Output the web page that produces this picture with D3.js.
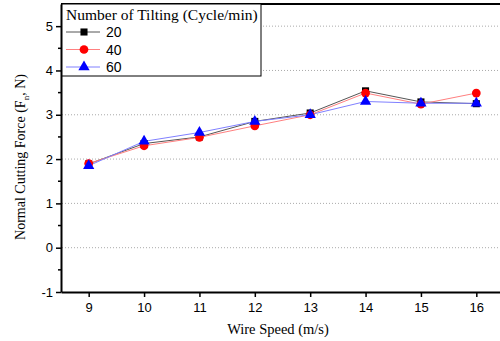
<!DOCTYPE html>
<html><head><meta charset="utf-8">
<script src="https://d3js.org/d3.v7.min.js"></script>
<style>body{margin:0;background:#fff}svg{display:block}</style>
</head><body>
<script>
const speeds = [9,10,11,12,13,14,15,16];
const tilt20 = [1.89,2.35,2.50,2.85,3.04,3.54,3.29,3.25];
const tilt40 = [1.90,2.30,2.49,2.75,3.00,3.49,3.24,3.49];
const tilt60 = [1.85,2.40,2.60,2.85,3.00,3.30,3.26,3.26];
const yTicks = [-1,0,1,2,3,4,5];
const gridTicks = [0,1,2,3,4,5];
const seriesNames = ["20","40","60"];

const W=500,H=341;
const svg=d3.select("body").append("svg").attr("width",W).attr("height",H);
const x=d3.scaleLinear().domain([8.5,16.5]).range([61,504]);
const y=d3.scaleLinear().domain([-1,5.5]).range([292,4]);

// grid
svg.append("g").selectAll("line").data(gridTicks).join("line")
  .attr("x1",62).attr("x2",W).attr("y1",d=>y(d)).attr("y2",d=>y(d))
  .attr("stroke","#aaa").attr("stroke-width",1).attr("stroke-dasharray","1,2");

// frame top
svg.append("line").attr("x1",61).attr("x2",W).attr("y1",y(5.5)).attr("y2",y(5.5)).attr("stroke","#000").attr("stroke-width",2);

const series=[
  {name:seriesNames[0],vals:tilt20,line:"#555",fill:"#000",shape:d3.symbolSquare,size:50},
  {name:seriesNames[1],vals:tilt40,line:"#ff8080",fill:"#ff0000",shape:d3.symbolCircle,size:60},
  {name:seriesNames[2],vals:tilt60,line:"#8080ff",fill:"#0000ff",shape:d3.symbolTriangle,size:55},
];
const line=d3.line().x((d,i)=>x(speeds[i])).y(d=>y(d));
series.forEach(s=>{
  svg.append("path").attr("d",line(s.vals)).attr("fill","none").attr("stroke",s.line).attr("stroke-width",1);
});
series.forEach(s=>{
  svg.append("g").selectAll("path").data(s.vals).join("path")
    .attr("d",d3.symbol().type(s.shape).size(s.size))
    .attr("transform",(d,i)=>`translate(${x(speeds[i])},${y(d)})`)
    .attr("fill",s.fill);
});

// axes
const fmt=d=>String(d);
const xAxis=d3.axisBottom(x).tickValues(speeds).tickSize(5).tickSizeOuter(0).tickFormat(fmt);
const gx=svg.append("g").attr("transform","translate(0,292)").call(xAxis);
gx.select(".domain").attr("stroke-width",2);
gx.selectAll(".tick line").attr("stroke-width",1.5);
gx.selectAll("text").attr("font-family","Liberation Sans, Arial, sans-serif").attr("font-size",13).attr("dy","0.9em");

const yAxis=d3.axisLeft(y).tickValues(yTicks).tickSize(5).tickSizeOuter(0).tickFormat(fmt);
const gy=svg.append("g").attr("transform","translate(61,0)").call(yAxis);
gy.select(".domain").attr("stroke-width",2);
gy.selectAll(".tick line").attr("stroke-width",1.5);
gy.selectAll("text").attr("font-family","Liberation Sans, Arial, sans-serif").attr("font-size",13).attr("x",-8);
// minor ticks
const minor=d3.range(-0.5,5.5,1);
svg.append("g").selectAll("line").data(minor).join("line")
  .attr("x1",58).attr("x2",61).attr("y1",d=>y(d)).attr("y2",d=>y(d)).attr("stroke","#000").attr("stroke-width",1.5);

// labels
svg.append("text").attr("x",278).attr("y",334).attr("text-anchor","middle")
  .attr("font-family","Liberation Serif, Times New Roman, serif").attr("font-size",14.5).text("Wire Speed (m/s)");
const yl=svg.append("text").attr("transform","translate(25,157) rotate(-90)").attr("text-anchor","middle")
  .attr("font-family","Liberation Serif, Times New Roman, serif").attr("font-size",14);
yl.append("tspan").text("Normal Cutting Force (F");
yl.append("tspan").attr("font-size",9).attr("dy",4).text("n");
yl.append("tspan").attr("dy",-4).text(", N)");

// legend
const lg=svg.append("g");
lg.append("rect").attr("x",62).attr("y",4).attr("width",199).attr("height",72).attr("fill","#fff").attr("stroke","#000").attr("stroke-width",1);
lg.append("text").attr("x",66).attr("y",20).attr("font-family","Liberation Serif, Times New Roman, serif").attr("font-size",15.5).text("Number of Tilting (Cycle/min)");
series.forEach((s,i)=>{
  const yy=32+i*17.5;
  lg.append("line").attr("x1",66).attr("x2",100).attr("y1",yy).attr("y2",yy).attr("stroke",s.line).attr("stroke-width",1);
  lg.append("path").attr("d",d3.symbol().type(s.shape).size(s.size)()).attr("transform",`translate(84,${yy})`).attr("fill",s.fill);
  lg.append("text").attr("x",106).attr("y",yy+5).attr("font-family","Liberation Sans, Arial, sans-serif").attr("font-size",14).text(s.name);
});
</script>
</body></html>
